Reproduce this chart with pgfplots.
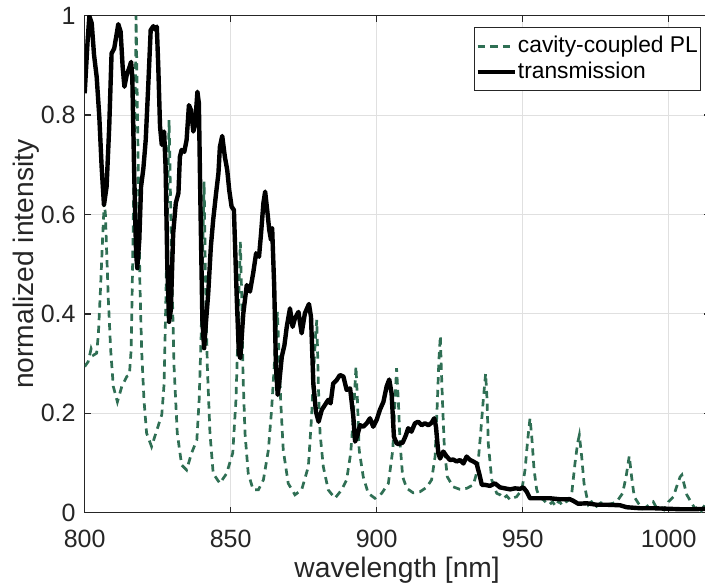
\documentclass[border=0pt]{standalone}
\usepackage{fontspec}
\setmainfont{Liberation Sans}
\usepackage{pgfplots}
\pgfplotsset{compat=1.18}
\definecolor{plgreen}{RGB}{47,111,84}
\definecolor{axgray}{RGB}{38,38,38}
\begin{document}
\begin{tikzpicture}
\begin{axis}[name=ax, at={(0,0)}, anchor=south west,
 scale only axis, width=312.44bp, height=248.5bp,
 xmin=800, xmax=1014, ymin=0, ymax=1,
 xtick={800,850,900,950,1000}, ytick={0,0.2,0.4,0.6,0.8,1},
 grid=major, major grid style={draw=black!12, line width=0.5bp},
 axis line style={draw=axgray, line width=0.75bp},
 tick style={draw=axgray, line width=0.75bp}, tick align=inside, major tick length=3bp,
 ticklabel style={font=\fontsize{12.5bp}{15bp}\selectfont, text=axgray},
 /pgf/number format/assume math mode=true, /pgf/number format/1000 sep={},
 xticklabel style={inner sep=0pt, anchor=north, yshift=-8.3bp},
 yticklabel style={inner sep=0pt, anchor=east, xshift=-4.35bp},
 xlabel={wavelength [nm]}, ylabel={normalized intensity},
 label style={font=\fontsize{14.1bp}{17bp}\selectfont, text=axgray, inner sep=0pt},
 xlabel style={at={(axis description cs:0.5,-0.142)}, anchor=south},
 ylabel style={at={(axis description cs:-0.072,0.5)}, anchor=south},
 legend style={at={(axis description cs:0.9858,0.9767)}, anchor=north east, draw=axgray, line width=0.5bp,
   font=\fontsize{11.4bp}{13bp}\selectfont, inner xsep=0.65bp, inner ysep=3.5bp,
   nodes={inner sep=0.5bp, text depth=0.22em}, row sep=1.5bp},
 legend cell align=left,
 legend image code/.code={\draw[#1] (0bp,0bp) -- (18.5bp,0bp);},
]
\addplot[plgreen, line width=1.35bp, dash pattern=on 3.6bp off 2.7bp] coordinates {
(800.0,0.294)(801.2,0.304)(802.2,0.33)(803.0,0.317)(804.1,0.321)(804.7,0.361)(805.5,0.462)(806.2,0.562)(806.7,0.625)(807.1,0.60)(807.5,0.529)(808.1,0.428)(808.9,0.327)(809.8,0.254)(811.2,0.223)(812.7,0.254)(814.4,0.274)(815.3,0.277)(815.9,0.327)(816.4,0.495)(817.0,0.730)(817.5,0.931)(817.6,1.0)(818.0,0.830)(818.5,0.631)(818.9,0.462)(819.5,0.327)(820.3,0.227)(821.2,0.160)(822.9,0.133)(824.7,0.166)(826.4,0.197)(827.2,0.260)(827.8,0.428)(828.4,0.629)(828.9,0.790)(829.2,0.696)(829.8,0.495)(830.6,0.294)(831.7,0.160)(833.2,0.096)(834.9,0.086)(836.6,0.120)(838.4,0.146)(839.2,0.227)(839.9,0.361)(840.4,0.529)(840.9,0.666)(841.3,0.495)(842.0,0.294)(842.9,0.160)(844.0,0.079)(846.3,0.059)(848.6,0.079)(850.7,0.120)(851.8,0.227)(852.5,0.361)(852.9,0.462)(853.3,0.545)(853.8,0.428)(854.2,0.28)(854.9,0.160)(856.0,0.079)(857.7,0.046)(859.5,0.046)(861.2,0.066)(862.9,0.126)(864.0,0.207)(864.9,0.294)(865.5,0.361)(866.0,0.404)(866.5,0.327)(867.1,0.227)(868.0,0.126)(869.7,0.059)(872.0,0.036)(874.3,0.046)(876.6,0.093)(877.7,0.193)(878.5,0.294)(879.1,0.361)(879.5,0.388)(880.0,0.260)(880.6,0.160)(881.7,0.093)(883.4,0.046)(885.7,0.029)(888.0,0.046)(889.7,0.066)(891.1,0.120)(892.0,0.193)(892.6,0.260)(892.9,0.294)(893.4,0.227)(894.0,0.126)(895.4,0.072)(897.1,0.039)(899.4,0.029)(901.7,0.039)(904.0,0.059)(905.5,0.126)(906.3,0.227)(906.8,0.291)(907.4,0.227)(908.0,0.140)(908.9,0.072)(910.3,0.049)(912.5,0.040)(914.8,0.042)(917.1,0.051)(918.8,0.066)(920.0,0.113)(920.8,0.227)(921.3,0.307)(921.8,0.356)(922.1,0.294)(922.6,0.213)(923.2,0.126)(924.2,0.072)(926.2,0.052)(928.5,0.047)(930.8,0.049)(933.1,0.056)(934.5,0.086)(935.6,0.160)(936.5,0.227)(937.3,0.280)(937.8,0.227)(938.2,0.140)(939.4,0.066)(941.1,0.039)(942.3,0.036)(943.4,0.029)(944.5,0.034)(945.7,0.026)(946.8,0.030)(947.9,0.032)(949.7,0.046)(950.8,0.086)(951.7,0.146)(952.5,0.190)(953.1,0.153)(953.9,0.086)(954.8,0.046)(955.9,0.03)(957.1,0.026)(958.0,0.02)(959.1,0.016)(960.2,0.022)(961.3,0.013)(962.4,0.024)(963.5,0.015)(964.6,0.021)(965.7,0.025)(966.8,0.039)(967.9,0.099)(968.8,0.140)(969.4,0.156)(970.2,0.113)(971.0,0.059)(972.5,0.016)(973.6,0.022)(975.3,0.013)(976.8,0.02)(978.8,0.016)(980.5,0.018)(982.2,0.022)(984.2,0.039)(985.4,0.072)(986.2,0.103)(986.5,0.114)(987.3,0.072)(988.2,0.032)(989.6,0.019)(991.0,0.008)(992.5,0.012)(993.6,0.018)(994.7,0.022)(995.8,0.01)(997.0,0.013)(998.4,0.006)(999.9,0.022)(1001.6,0.032)(1002.7,0.052)(1003.9,0.072)(1004.5,0.076)(1005.2,0.059)(1006.2,0.036)(1007.9,0.019)(1009.0,0.008)(1010.1,0.012)(1011.2,0.004)(1012.4,0.016)(1014,0.01)
};
\addlegendentry{cavity-coupled PL}
\addplot[black, line width=2.2bp, line join=round] coordinates {
(800.0,0.844)(801.0,0.95)(801.6,0.999)(802.4,0.985)(803.2,0.921)(804.1,0.877)(805.0,0.797)(805.8,0.696)(806.6,0.619)(807.5,0.656)(808.4,0.777)(809.2,0.924)(810.1,0.934)(811.0,0.965)(811.5,0.983)(812.3,0.968)(813.0,0.897)(813.6,0.857)(814.4,0.881)(815.2,0.894)(815.9,0.907)(816.3,0.877)(816.9,0.696)(817.6,0.522)(818.0,0.492)(818.7,0.549)(819.3,0.656)(820.1,0.693)(820.9,0.750)(821.8,0.864)(822.6,0.971)(823.5,0.979)(824.1,0.972)(824.7,0.978)(825.2,0.897)(825.8,0.777)(826.4,0.740)(827.2,0.767)(827.7,0.696)(828.3,0.495)(828.9,0.384)(829.5,0.408)(830.3,0.562)(831.2,0.623)(832.1,0.643)(832.6,0.716)(833.2,0.730)(834.1,0.726)(834.9,0.750)(835.7,0.820)(836.4,0.810)(837.2,0.767)(837.8,0.780)(838.6,0.847)(839.1,0.824)(839.7,0.596)(840.3,0.388)(840.9,0.331)(841.5,0.381)(842.3,0.441)(843.2,0.535)(844.0,0.589)(845.0,0.643)(845.8,0.683)(846.3,0.736)(847.1,0.758)(848.0,0.716)(848.8,0.690)(849.5,0.649)(850.3,0.616)(851.1,0.609)(852.1,0.428)(852.8,0.321)(853.3,0.311)(854.3,0.400)(855.5,0.458)(856.6,0.445)(857.7,0.482)(858.7,0.522)(859.7,0.515)(860.4,0.562)(861.2,0.623)(861.8,0.646)(862.5,0.609)(863.2,0.569)(863.8,0.549)(864.2,0.572)(864.9,0.455)(865.5,0.294)(866.1,0.237)(866.6,0.260)(867.5,0.314)(868.4,0.337)(869.2,0.374)(870.3,0.411)(871.2,0.374)(872.0,0.391)(873.2,0.404)(874.3,0.361)(875.4,0.401)(876.8,0.420)(877.5,0.394)(878.3,0.260)(879.2,0.203)(880.1,0.183)(881.2,0.207)(882.3,0.217)(883.4,0.227)(884.2,0.220)(885.1,0.260)(886.3,0.267)(887.4,0.277)(888.6,0.274)(889.7,0.247)(890.9,0.250)(892.0,0.193)(892.6,0.143)(893.4,0.156)(894.3,0.176)(895.4,0.173)(896.6,0.180)(897.7,0.190)(898.8,0.173)(900.0,0.187)(901.1,0.207)(902.3,0.223)(903.4,0.254)(904.3,0.268)(905.1,0.240)(905.9,0.153)(906.8,0.140)(907.4,0.138)(908.9,0.141)(910.0,0.156)(910.8,0.170)(911.9,0.163)(913.1,0.180)(914.2,0.183)(915.4,0.176)(916.5,0.180)(917.7,0.176)(918.8,0.181)(919.7,0.190)(920.3,0.173)(921.1,0.120)(921.7,0.109)(922.8,0.123)(924.0,0.113)(925.1,0.106)(926.2,0.107)(927.4,0.103)(928.5,0.106)(929.7,0.099)(930.8,0.113)(932.0,0.106)(933.1,0.103)(934.2,0.099)(935.1,0.079)(936.0,0.056)(937.1,0.056)(938.8,0.054)(940.5,0.059)(942.2,0.051)(943.9,0.049)(945.7,0.047)(947.4,0.049)(949.1,0.048)(950.2,0.051)(951.4,0.042)(952.5,0.029)(954.8,0.029)(957.1,0.029)(959.4,0.029)(962.8,0.027)(966.2,0.027)(967.3,0.024)(969.0,0.018)(971.9,0.019)(975.3,0.016)(978.8,0.016)(983.3,0.015)(985.6,0.011)(990.2,0.009)(994.7,0.009)(999.3,0.008)(1003.9,0.007)(1008.4,0.007)(1014,0.008)
};
\addlegendentry{transmission}
\end{axis}
\pgfresetboundingbox
\path[use as bounding box] (-42.35bp,-36.65bp) rectangle (310.15bp,256.35bp);
\end{tikzpicture}
\end{document}
